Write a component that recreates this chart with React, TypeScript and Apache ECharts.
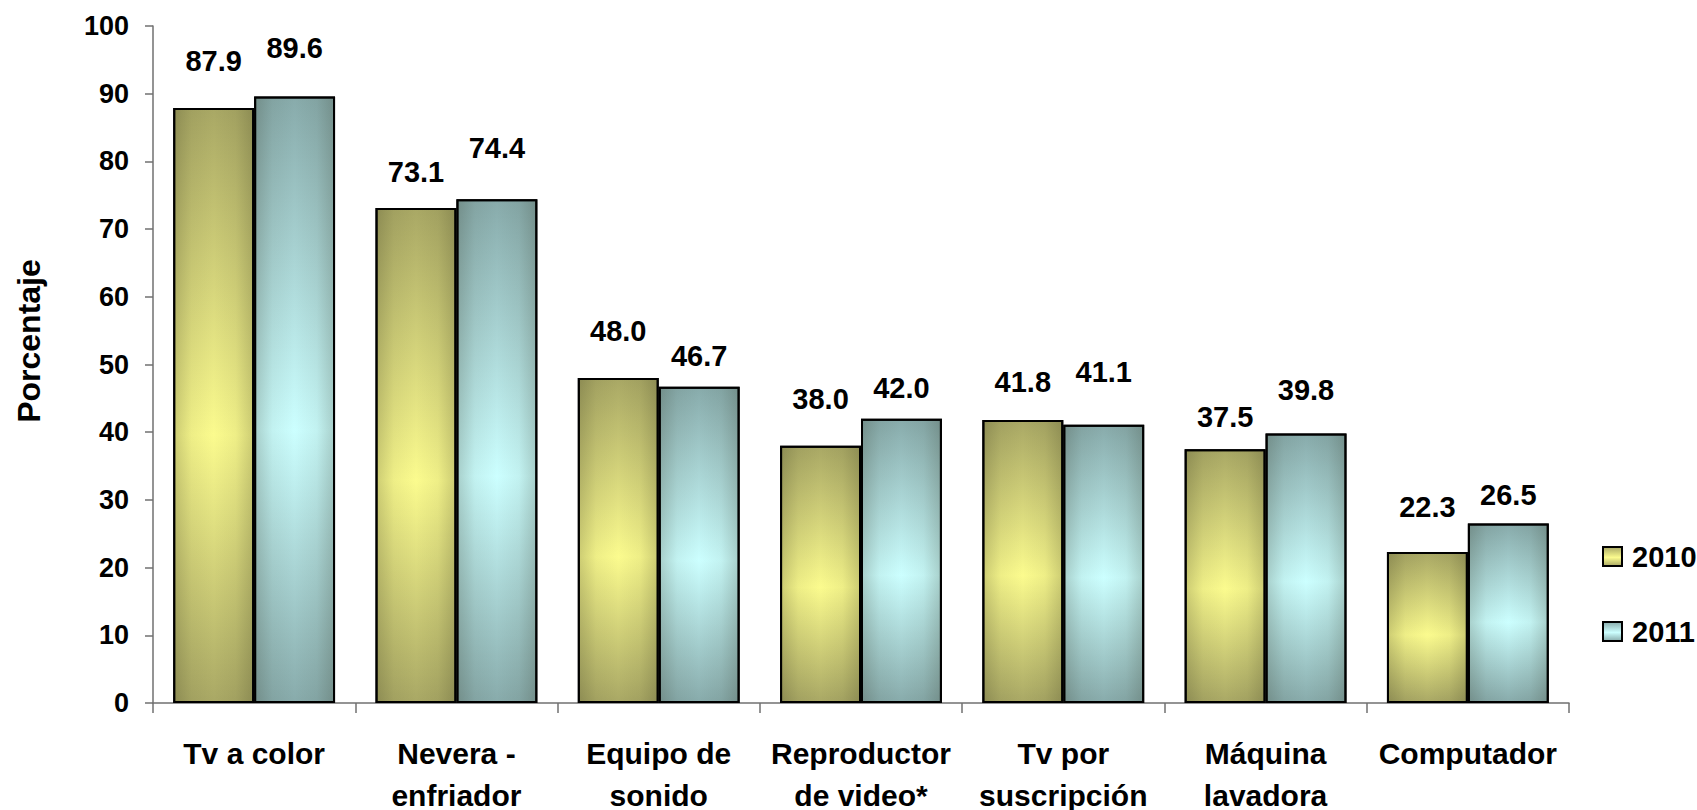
import React, { useEffect, useRef } from "react";
import * as echarts from "echarts";

const categories = [
  "Tv a color",
  "Nevera -\nenfriador",
  "Equipo de\nsonido",
  "Reproductor\nde video*",
  "Tv por\nsuscripción",
  "Máquina\nlavadora",
  "Computador",
];
const values2010 = [87.9, 73.1, 48.0, 38.0, 41.8, 37.5, 22.3];
const values2011 = [89.6, 74.4, 46.7, 42.0, 41.1, 39.8, 26.5];
const seriesNames = ["2010", "2011"];

// label offsets (px above bar top), as placed in the original chart
const labelLift2010 = [32, 22, 33, 32, 24, 18, 31];
const labelLift2011 = [34, 37, 16, 16, 38, 29, 14];

const FONT = "Liberation Sans, Arial, sans-serif";

function vGrad(edge: string, mid: string) {
  return new echarts.graphic.LinearGradient(0, 0, 0, 1, [
    { offset: 0, color: edge },
    { offset: 0.55, color: mid },
    { offset: 1, color: edge },
  ]);
}

function hShade() {
  return new echarts.graphic.LinearGradient(0, 0, 1, 0, [
    { offset: 0, color: "rgba(40,40,20,0.22)" },
    { offset: 0.22, color: "rgba(40,40,20,0.06)" },
    { offset: 0.5, color: "rgba(40,40,20,0)" },
    { offset: 0.78, color: "rgba(40,40,20,0.06)" },
    { offset: 1, color: "rgba(40,40,20,0.22)" },
  ]);
}

export default function App() {
  const ref = useRef<HTMLDivElement>(null);
  useEffect(() => {
    document.body.style.margin = "0";
    if (!ref.current) return;
    const chart = echarts.init(ref.current, undefined, { renderer: "svg" });
    const fill2010 = vGrad("#a9a865", "#fbfb8e");
    const fill2011 = vGrad("#88abab", "#ccffff");
    const label = {
      show: true,
      position: "top" as const,
      formatter: (p: any) => Number(p.value).toFixed(1),
      fontFamily: FONT,
      fontWeight: "bold" as const,
      fontSize: 29,
      color: "#000",
    };
    const withLift = (vals: number[], lifts: number[]) =>
      vals.map((v, i) => ({ value: v, label: { distance: lifts[i] } }));
    chart.setOption({
      animation: false,
      grid: {
        left: 153,
        right: 128,
        top: 26,
        bottom: 107,
        containLabel: false,
        outerBoundsMode: "none",
      },
      legend: {
        data: seriesNames,
        orient: "vertical",
        left: 1597,
        top: 537,
        itemWidth: 19,
        itemHeight: 19,
        itemGap: 46,
        icon: "rect",
        itemStyle: { borderColor: "#000", borderWidth: 2 },
        textStyle: {
          fontFamily: FONT,
          fontWeight: "bold",
          fontSize: 29,
          color: "#000",
          lineHeight: 19,
          padding: [0, 0, 0, 5],
        },
      },
      xAxis: [
        {
          type: "category",
          data: categories,
          axisLine: { lineStyle: { color: "#707070", width: 1.5 } },
          axisTick: { show: true, length: 10, lineStyle: { color: "#707070", width: 1.5 } },
          axisLabel: {
            interval: 0,
            margin: 29,
            fontFamily: FONT,
            fontWeight: "bold",
            fontSize: 30,
            lineHeight: 42,
            color: "#000",
          },
        },
        { type: "category", data: categories, show: false },
      ],
      yAxis: {
        type: "value",
        min: 0,
        max: 100,
        interval: 10,
        splitLine: { show: false },
        axisLine: { show: true, lineStyle: { color: "#707070", width: 1.5 } },
        axisTick: { show: true, length: 8, lineStyle: { color: "#707070", width: 1.5 } },
        axisLabel: {
          margin: 24,
          fontFamily: FONT,
          fontWeight: "bold",
          fontSize: 27,
          color: "#000",
        },
      },
      graphic: [
        {
          type: "text",
          x: 29,
          y: 341,
          rotation: Math.PI / 2,
          style: {
            text: "Porcentaje",
            font: `bold 32px ${FONT}`,
            fill: "#000",
            align: "center",
            verticalAlign: "middle",
          },
        },
      ],
      series: [
        {
          name: seriesNames[0],
          type: "bar",
          data: withLift(values2010, labelLift2010),
          barGap: "0%",
          barCategoryGap: "20%",
          itemStyle: { color: fill2010, borderColor: "#000", borderWidth: 2 },
          label,
        },
        {
          name: seriesNames[1],
          type: "bar",
          data: withLift(values2011, labelLift2011),
          barGap: "0%",
          barCategoryGap: "20%",
          itemStyle: { color: fill2011, borderColor: "#000", borderWidth: 2 },
          label,
        },
        {
          name: "shade2010",
          type: "bar",
          xAxisIndex: 1,
          data: values2010,
          barGap: "0%",
          barCategoryGap: "20%",
          silent: true,
          z: 3,
          itemStyle: { color: hShade(), borderColor: "#000", borderWidth: 2 },
        },
        {
          name: "shade2011",
          type: "bar",
          xAxisIndex: 1,
          data: values2011,
          barGap: "0%",
          barCategoryGap: "20%",
          silent: true,
          z: 3,
          itemStyle: { color: hShade(), borderColor: "#000", borderWidth: 2 },
        },
      ],
    });
    return () => chart.dispose();
  }, []);
  return <div ref={ref} style={{ width: 1697, height: 810 }} />;
}
